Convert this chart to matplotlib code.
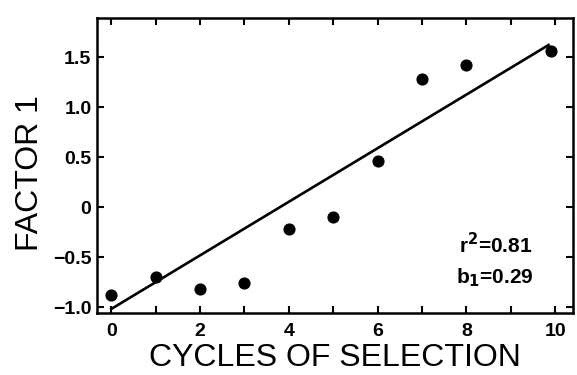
import matplotlib
matplotlib.use("Agg")
import matplotlib.pyplot as plt
import numpy as np

cycles = [0, 1, 2, 3, 4, 5, 6, 7, 8, 9.9]
factor1 = [-0.88, -0.70, -0.82, -0.76, -0.22, -0.10, 0.46, 1.28, 1.42, 1.56]
fit_x = [0, 9.85]
fit_y = [-1.02, 1.62]
xticks = [0, 2, 4, 6, 8, 10]
yticks = [-1.0, -0.5, 0, 0.5, 1.0, 1.5]
ytick_labels = ["\u22121.0", "\u22120.5", "0", "0.5", "1.0", "1.5"]

plt.rcParams['font.family'] = ['Liberation Sans', 'DejaVu Sans']
fig = plt.figure(figsize=(5.77, 3.75), dpi=100)
ax = fig.add_axes([97/577, 1-313/375, (573-97)/577, (313-18)/375])

ax.plot(fit_x, fit_y, color='black', lw=1.9)
ax.scatter(cycles, factor1, s=60, color='black', zorder=3)

ax.set_xlim(-0.32, 10.4)
ax.set_ylim(-1.06, 1.89)
ax.set_xticks(xticks)
ax.set_xticklabels([str(t) for t in xticks], fontsize=14, fontweight='bold')
ax.set_xticks(range(0, 11), minor=True)
ax.set_yticks(yticks)
ax.set_yticklabels(ytick_labels, fontsize=14, fontweight='bold')
ax.tick_params(which='both', direction='in', top=True, right=True, width=1.5, length=5)
ax.tick_params(axis='x', pad=7)
ax.tick_params(axis='y', pad=4)
for s in ax.spines.values():
    s.set_linewidth(1.8)

ax.set_xlabel("CYCLES OF SELECTION", fontsize=23, labelpad=2.5)
ax.set_ylabel("FACTOR 1", fontsize=23)
ax.yaxis.set_label_coords(-0.11, 0.475)

ax.text(8.65, -0.46, r"r$^{\mathbf{2}}$=0.81", fontsize=15, fontweight='bold', ha='center', va='baseline')
ax.text(8.65, -0.76, r"b$_{\mathbf{1}}$=0.29", fontsize=15, fontweight='bold', ha='center', va='baseline')

fig.savefig("out.png", dpi=100)
